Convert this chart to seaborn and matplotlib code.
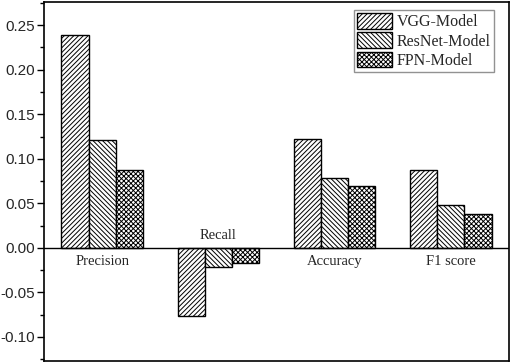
import matplotlib
matplotlib.use("Agg")
import matplotlib.pyplot as plt
import seaborn as sns
import pandas as pd
from matplotlib.ticker import MultipleLocator

categories = ["Precision", "Recall", "Accuracy", "F1 score"]
models = ["VGG-Model", "ResNet-Model", "FPN-Model"]
vgg = [0.239, -0.076, 0.122, 0.087]
resnet = [0.121, -0.022, 0.078, 0.048]
fpn = [0.087, -0.017, 0.0695, 0.038]
hatches = ["///////", "\\\\\\\\\\\\\\", "xxxxxxx"]

rows = []
for m, vals in zip(models, [vgg, resnet, fpn]):
    for c, v in zip(categories, vals):
        rows.append({"Category": c, "Model": m, "Value": v})
df = pd.DataFrame(rows)

sns.set_style("ticks")
plt.rcParams["hatch.linewidth"] = 0.7
fig = plt.figure(figsize=(5.12, 3.63), dpi=100)
ax = fig.add_axes([44 / 512, 2 / 363, 465 / 512, 359 / 363])

sns.barplot(data=df, x="Category", y="Value", hue="Model", order=categories,
            hue_order=models, palette=["white"] * 3, edgecolor="black",
            linewidth=1.0, width=0.7, errorbar=None, ax=ax, saturation=1)

for container, h in zip(ax.containers, hatches):
    for bar in container:
        bar.set_hatch(h)
        bar.set_edgecolor("black")

ax.axhline(0, color="black", linewidth=1.0)
ax.set_xlim(-0.5, 3.5)
ax.set_ylim(-0.127, 0.276)
ax.yaxis.set_minor_locator(MultipleLocator(0.025))
ax.set_yticks([-0.10, -0.05, 0.0, 0.05, 0.10, 0.15, 0.20, 0.25])
ax.set_yticklabels(["-0.10", "-0.05", "0.00", "0.05", "0.10", "0.15", "0.20", "0.25"],
                   family="Liberation Sans", fontsize=11)
ax.tick_params(axis="y", which="major", direction="out", length=5, width=1, color="black", pad=1.5)
ax.tick_params(axis="y", which="minor", direction="out", length=3, width=1, color="black")
ax.set_xticks([])
ax.set_xlabel("")
ax.set_ylabel("")
for s in ax.spines.values():
    s.set_visible(True)
    s.set_linewidth(1.2)
    s.set_color("black")

for i, c in enumerate(categories):
    vals = [vgg[i], resnet[i], fpn[i]]
    y = -0.0155 if min(vals) >= 0 else 0.0135
    ax.text(i, y, c, ha="center", va="center", family="Liberation Serif", fontsize=10.5)

leg = ax.legend(loc="upper right", bbox_to_anchor=(0.968, 0.978), prop={"family": "Liberation Serif", "size": 11.5},
                frameon=True, fancybox=False, edgecolor="#777777", handlelength=2.2,
                handleheight=1.15, labelspacing=0.12, handletextpad=0.3, borderpad=0.2,
                borderaxespad=0.0)
for patch, h in zip(leg.get_patches(), hatches):
    patch.set_hatch(h)
    patch.set_edgecolor("black")
    patch.set_facecolor("white")
leg.get_frame().set_linewidth(1.0)

fig.savefig("out.png", dpi=100)
